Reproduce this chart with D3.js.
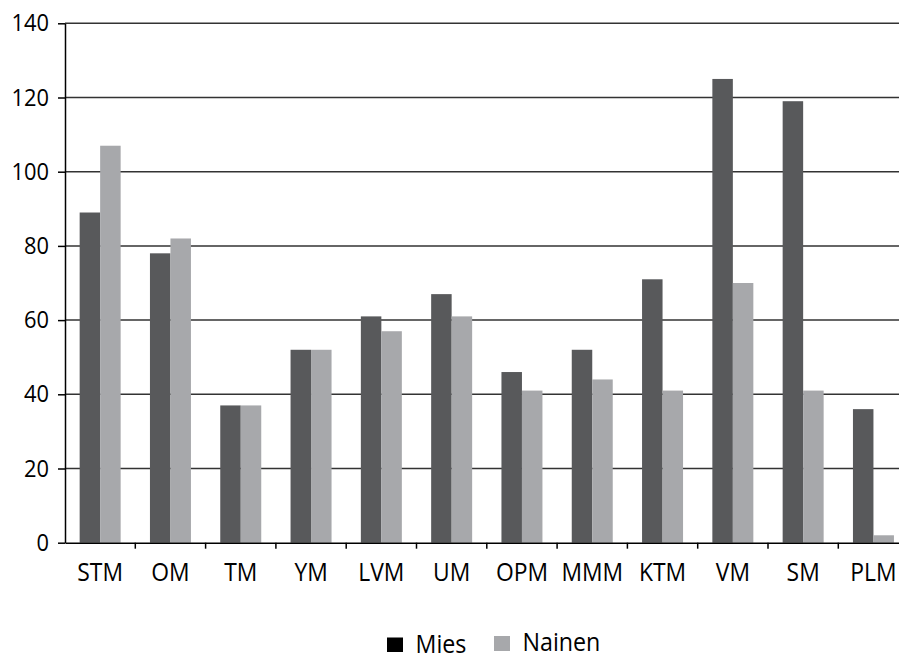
<!DOCTYPE html>
<html><head><meta charset="utf-8">
<script src="https://cdn.jsdelivr.net/npm/d3@7"></script>
<style>html,body{margin:0;padding:0;background:#fff;overflow:hidden}svg{display:block}</style>
</head><body>
<svg id="c" width="899" height="656"></svg>
<script>
const categories = ["STM","OM","TM","YM","LVM","UM","OPM","MMM","KTM","VM","SM","PLM"];
const seriesNames = ["Mies","Nainen"];
const mies =   [89, 78, 37, 52, 61, 67, 46, 52, 71, 125, 119, 36];
const nainen = [107, 82, 37, 52, 57, 61, 41, 44, 41, 70, 41, 2];
const yTicks = [0,20,40,60,80,100,120,140];
const barColors = ["#58595b","#a7a8ab"];
const legendColors = ["#000000","#a7a8ab"];

const svg = d3.select("#c");
const font = "'Open Sans', 'Noto Sans', sans-serif";
const plotL = 65, plotR = 908.6, plotT = 23.3, plotB = 542.7;

const x0 = d3.scaleBand().domain(categories).range([plotL, plotR]).paddingInner(0).paddingOuter(0);
const x1 = d3.scaleBand().domain(seriesNames).range([0, x0.bandwidth()]).paddingInner(0).paddingOuter(0.715);
const y = d3.scaleLinear().domain([0,140]).range([plotB, plotT]);

// gridlines
svg.append("g").selectAll("line").data(yTicks.filter(d=>d>0)).join("line")
  .attr("x1", plotL).attr("x2", plotR)
  .attr("y1", d=>y(d)).attr("y2", d=>y(d))
  .attr("stroke", "#333").attr("stroke-width", 1.5);

// bars
const data = categories.map((c,i)=>({cat:c, vals:[{s:"Mies",v:mies[i]},{s:"Nainen",v:nainen[i]}]}));
svg.append("g").selectAll("g").data(data).join("g")
  .attr("transform", d=>`translate(${x0(d.cat)},0)`)
  .selectAll("rect").data(d=>d.vals).join("rect")
  .attr("x", d=>x1(d.s)).attr("width", x1.bandwidth())
  .attr("y", d=>y(d.v)).attr("height", d=>y(0)-y(d.v))
  .attr("fill", (d,i)=>barColors[i]);

// y axis
const ySx = 0.93;
const ya = svg.append("g").attr("transform", `translate(${plotL},0)`)
  .call(d3.axisLeft(y).tickValues(yTicks).tickSize(7).tickPadding(9).tickSizeOuter(0));
ya.select(".domain").attr("stroke","#000").attr("stroke-width",1.5);
ya.selectAll(".tick line").attr("stroke","#000").attr("stroke-width",1.5);
ya.selectAll("text").attr("font-family", font).attr("font-size", 23.5).attr("fill","#000")
  .attr("x", -16/ySx).attr("transform", `scale(${ySx},1)`);

// x axis
const xSx = 0.88;
const xa = svg.append("g").attr("transform", `translate(0,${plotB})`)
  .call(d3.axisBottom(x0).tickSize(0).tickPadding(20));
xa.select(".domain").attr("stroke","#000").attr("stroke-width",1.5);
xa.selectAll("text").attr("font-family", font).attr("font-size", 26).attr("fill","#000")
  .attr("transform", `scale(${xSx},1)`);
// category boundary ticks
xa.append("g").selectAll("line").data(categories.slice(1)).join("line")
  .attr("x1", d=>x0(d)).attr("x2", d=>x0(d))
  .attr("y1", 0).attr("y2", 6).attr("stroke","#000").attr("stroke-width",1.5);

// legend
const lSx = 0.93;
const lg = svg.append("g").attr("font-family", font).attr("font-size", 25);
const legendItems = [
  {n:seriesNames[0], x:387, sy:637.5, sh:14.5, ty:653, c:legendColors[0]},
  {n:seriesNames[1], x:494, sy:636, sh:15, ty:651.5, c:legendColors[1]}];
legendItems.forEach(it=>{
  lg.append("rect").attr("x", it.x).attr("y", it.sy).attr("width", 16).attr("height", it.sh).attr("fill", it.c);
  lg.append("text").attr("x", (it.x+28.5)/lSx).attr("y", it.ty)
    .attr("transform", `scale(${lSx},1)`).attr("fill","#000").text(it.n);
});
</script>
</body></html>
